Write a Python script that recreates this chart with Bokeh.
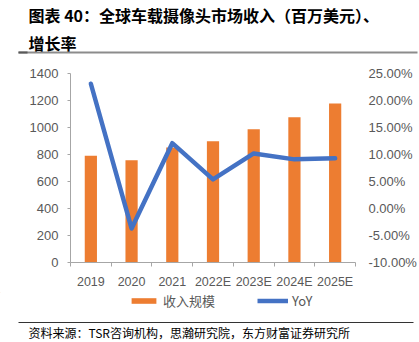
from bokeh.plotting import figure
from bokeh.models import (Range1d, LinearAxis, FixedTicker, NumeralTickFormatter,
                          Legend, LegendItem, ColumnDataSource)
from bokeh.layouts import column
from bokeh.core.properties import value
from bokeh.embed import file_html
from bokeh.resources import INLINE

categories = ["2019", "2020", "2021", "2022E", "2023E", "2024E", "2025E"]
revenue = [790, 758, 852, 898, 987, 1076, 1178]
yoy = [0.231, -0.037, 0.121, 0.054, 0.102, 0.091, 0.093]
left_ticks = [0, 200, 400, 600, 800, 1000, 1200, 1400]
right_ticks = [-0.10, -0.05, 0.0, 0.05, 0.10, 0.15, 0.20, 0.25]

title_line1 = "图表 40：全球车载摄像头市场收入（百万美元）、"
title_line2 = "增长率"
source_text = "资料来源：TSR咨询机构，思瀚研究院，东方财富证券研究所"
legend_labels = ["收入规模", "YoY"]

W = 419
CJK = "Noto Sans CJK SC"
label_font = "Liberation Sans"
grey_txt = "#595959"
axis_grey = "#a6a6a6"
bar_color = "#ED7D31"
line_color = "#4472C4"


def blank_fig(h):
    f = figure(width=W, height=h, output_backend="svg", toolbar_location=None,
               x_range=Range1d(0, W), y_range=Range1d(h, 0),
               x_axis_type=None, y_axis_type=None, frame_align=False,
               min_border_left=0, min_border_right=0, min_border_top=0, min_border_bottom=0)
    f.xgrid.visible = False
    f.ygrid.visible = False
    f.outline_line_color = None
    f.background_fill_color = "white"
    f.border_fill_color = "white"
    return f


# ---- header ----
top = blank_fig(60)
top.text(x=[28], y=[14], text=[title_line1], text_baseline="middle",
         text_font=value(CJK), text_font_style="bold", text_font_size="16px",
         text_color="#000000")
top.text(x=[28], y=[42], text=[title_line2], text_baseline="middle",
         text_font=value(CJK), text_font_style="bold", text_font_size="16px",
         text_color="#000000")
top.segment(x0=[18], y0=[52], x1=[417], y1=[52], line_color="#8c8c8c", line_width=2)
top.segment(x0=[18], y0=[52], x1=[27], y1=[52], line_color="#595959", line_width=2)

# ---- main chart ----
xpos = [i + 0.5 for i in range(len(categories))]
src = ColumnDataSource(dict(x=xpos, rev=revenue, yoy=yoy))

p = figure(width=W, height=232, output_backend="svg", toolbar_location=None,
           x_range=Range1d(0, len(categories)), y_range=Range1d(0, 1400),
           frame_align=False,
           min_border_left=70, min_border_right=62, min_border_top=13, min_border_bottom=30)
p.extra_y_ranges = {"yoy": Range1d(-0.10, 0.25)}
p.xgrid.visible = False
p.ygrid.visible = False
p.outline_line_color = None
p.background_fill_color = "white"
p.border_fill_color = "white"

xa = p.xaxis[0]
xa.ticker = FixedTicker(ticks=xpos, minor_ticks=list(range(len(categories) + 1)))
xa.major_label_overrides = {x: c for x, c in zip(xpos, categories)}
xa.major_tick_out = 0
xa.major_tick_in = 0
xa.minor_tick_out = 4
xa.minor_tick_in = 0
xa.minor_tick_line_color = axis_grey
xa.axis_line_color = axis_grey
xa.major_label_standoff = 8
xa.major_label_text_font = label_font
xa.major_label_text_font_size = "12.5px"
xa.major_label_text_color = grey_txt

ya = p.yaxis[0]
ya.ticker = FixedTicker(ticks=left_ticks)
ya.major_tick_out = 3
ya.major_tick_in = 0
ya.minor_tick_out = 0
ya.minor_tick_in = 0
ya.major_tick_line_color = axis_grey
ya.axis_line_color = axis_grey
ya.major_label_standoff = 9
ya.major_label_text_font = label_font
ya.major_label_text_font_size = "13px"
ya.major_label_text_color = grey_txt

ra = LinearAxis(y_range_name="yoy", ticker=FixedTicker(ticks=right_ticks),
                formatter=NumeralTickFormatter(format="0.00%"))
ra.axis_line_color = None
ra.major_tick_line_color = None
ra.minor_tick_line_color = None
ra.major_tick_out = 0
ra.major_tick_in = 0
ra.minor_tick_out = 0
ra.minor_tick_in = 0
ra.major_label_standoff = 13
ra.major_label_text_font = label_font
ra.major_label_text_font_size = "13px"
ra.major_label_text_color = grey_txt
p.add_layout(ra, "right")

p.vbar(x="x", top="rev", width=0.3, bottom=0, source=src,
       fill_color=bar_color, line_color=None)
p.line(x="x", y="yoy", source=src, y_range_name="yoy",
       line_color=line_color, line_width=4.5, line_join="round", line_cap="round")

# ---- footer (legend, rule, source) ----
bot = blank_fig(50)
# style-only renderers (placed off-view) used as legend swatches
lg_bar = bot.vbar(x=[-1000], top=[-1000], bottom=[-1001], width=1,
                  fill_color=bar_color, line_color=None)
lg_line = bot.line(x=[-1000, -999], y=[-1000, -1000], line_color=line_color, line_width=4.5)
legend = Legend(items=[LegendItem(label=legend_labels[0], renderers=[lg_bar]),
                       LegendItem(label=legend_labels[1], renderers=[lg_line])],
                location=(128, 32), orientation="horizontal",
                padding=0, margin=0, spacing=42, glyph_width=31, glyph_height=7,
                label_height=12, label_standoff=4,
                label_text_font=CJK, label_text_font_size="13px",
                label_text_color=grey_txt, background_fill_alpha=0,
                border_line_color=None)
bot.add_layout(legend, "center")
bot.segment(x0=[18], y0=[30], x1=[413], y1=[30], line_color="#333333", line_width=1)
bot.text(x=[28], y=[39.7], text=[source_text], text_baseline="middle",
         text_font=value(CJK), text_font_size="12px", text_color="#000000")

layout = column(top, p, bot, spacing=0)
open("out.html", "w").write(file_html(layout, INLINE))
